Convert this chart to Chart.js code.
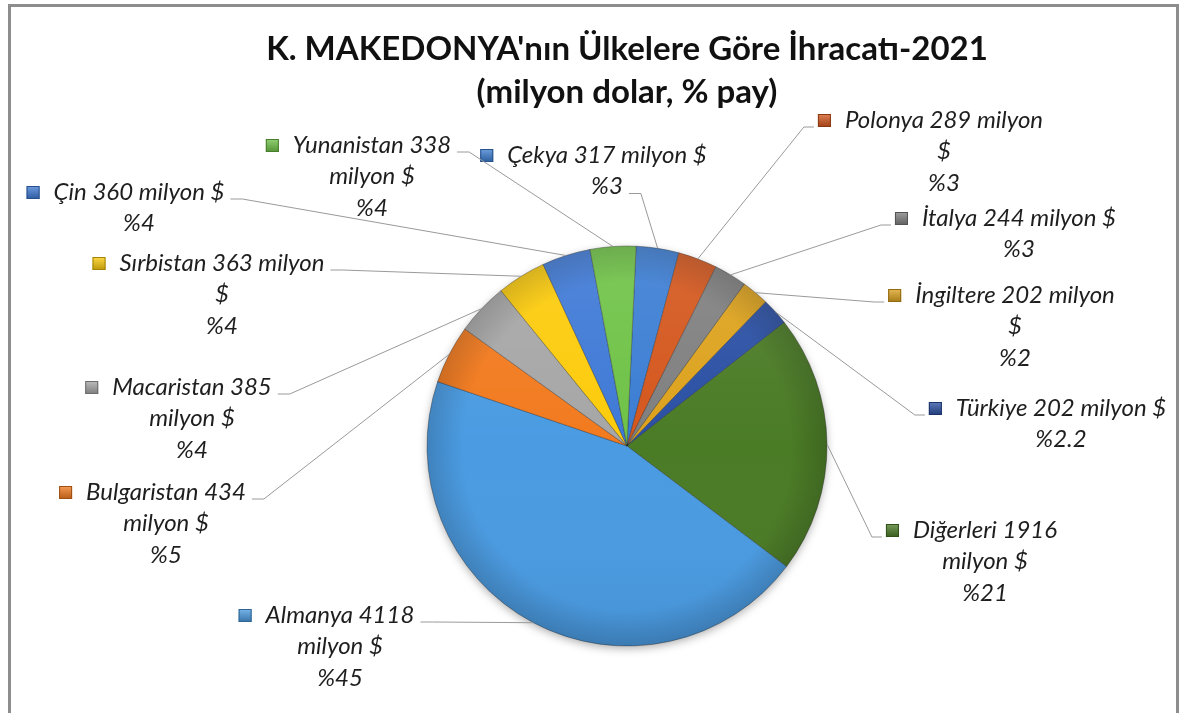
<!DOCTYPE html>
<html>
<head>
<meta charset="utf-8">
<title>K. Makedonya ihracat 2021</title>
<script src="https://cdn.jsdelivr.net/npm/chart.js@4.4.1/dist/chart.umd.min.js"></script>
<style>
  html, body { margin: 0; padding: 0; background: #fff; }
  #wrap { width: 1181px; height: 713px; position: relative; }
</style>
</head>
<body>
<div id="wrap"><canvas id="pieChart" width="1181" height="713"></canvas></div>
<script>
// data, clockwise from the top of the pie
let countries = ['Çekya', 'Polonya', 'İtalya', 'İngiltere', 'Türkiye', 'Diğerleri', 'Almanya', 'Bulgaristan', 'Macaristan', 'Sırbistan', 'Çin', 'Yunanistan'];
let exportValues = [317, 289, 244, 202, 202, 1916, 4118, 434, 385, 363, 360, 338];
let shares = ['%3', '%3', '%3', '%2', '%2.2', '%21', '%45', '%5', '%4', '%4', '%4', '%4'];
let titleLines = ["K. MAKEDONYA'nın Ülkelere Göre İhracatı-2021", '(milyon dolar, % pay)'];

let sliceColors = ['#3B7DD3', '#D4561C', '#7F7F7F', '#DDA21C', '#2A4FA3', '#4A7B25', '#4A9BE2', '#F27A1E', '#A6A6A6', '#FCCB0A', '#3E79D6', '#6EC246'];

// label boxes: center x of the text, y of the first line, words on first line, which way the leader goes
let labelLayout = [
  {x: 607, y: 155, wrap: 4, lead: 'right', line: 1},
  {x: 944, y: 120, wrap: 3, lead: 'left', line: 0},
  {x: 1019, y: 218, wrap: 4, lead: 'left', line: 0},
  {x: 1015, y: 295, wrap: 3, lead: 'left', line: 0},
  {x: 1061, y: 408, wrap: 4, lead: 'left', line: 0},
  {x: 985, y: 530, wrap: 2, lead: 'left', line: 0},
  {x: 340, y: 615, wrap: 2, lead: 'right', line: 0},
  {x: 166, y: 492, wrap: 2, lead: 'right', line: 0},
  {x: 192, y: 387, wrap: 2, lead: 'right', line: 0},
  {x: 222, y: 263, wrap: 3, lead: 'right', line: 0},
  {x: 139, y: 192, wrap: 4, lead: 'right', line: 0},
  {x: 372, y: 145, wrap: 2, lead: 'right', line: 0}
];

let labelFont = 'italic 24px Lato';
let lineGap = 31.5;

function shade(hex, amt) {
  let n = parseInt(hex.slice(1), 16);
  let r = (n >> 16) & 255, g = (n >> 8) & 255, b = n & 255;
  let f = (c) => Math.max(0, Math.min(255, Math.round(amt < 0 ? c * (1 + amt) : c + (255 - c) * amt)));
  return 'rgb(' + f(r) + ',' + f(g) + ',' + f(b) + ')';
}

function labelLines(i) {
  let words = [countries[i], String(exportValues[i]), 'milyon', '$'];
  let w = labelLayout[i].wrap;
  let lines = [words.slice(0, w).join(' ')];
  if (w < words.length) lines.push(words.slice(w).join(' '));
  lines.push(shares[i]);
  return lines;
}

// white page + grey frame
let framePlugin = {
  id: 'frame',
  beforeDraw(chart) {
    let ctx = chart.ctx;
    ctx.save();
    ctx.fillStyle = '#ffffff';
    ctx.fillRect(0, 0, chart.width, chart.height);
    ctx.strokeStyle = '#8d8d8d';
    ctx.lineWidth = 3;
    ctx.strokeRect(9.5, 5.5, 1168, 800);
    ctx.restore();
  }
};

// soft shadow under the pie and a bit of rim shading on top
let depthPlugin = {
  id: 'depth',
  beforeDatasetsDraw(chart) {
    let arc = chart.getDatasetMeta(0).data[0];
    if (!arc) return;
    let p = arc.getProps(['x', 'y', 'outerRadius'], true);
    let ctx = chart.ctx;
    ctx.save();
    ctx.shadowColor = 'rgba(0,0,0,0.35)';
    ctx.shadowBlur = 10;
    ctx.shadowOffsetY = 3;
    ctx.fillStyle = '#ffffff';
    ctx.beginPath();
    ctx.arc(p.x, p.y, p.outerRadius - 1, 0, Math.PI * 2);
    ctx.fill();
    ctx.restore();
  },
  afterDatasetsDraw(chart) {
    let arc = chart.getDatasetMeta(0).data[0];
    if (!arc) return;
    let p = arc.getProps(['x', 'y', 'outerRadius'], true);
    let ctx = chart.ctx;
    ctx.save();
    let g = ctx.createRadialGradient(p.x, p.y, p.outerRadius * 0.82, p.x, p.y, p.outerRadius);
    g.addColorStop(0, 'rgba(0,0,0,0)');
    g.addColorStop(1, 'rgba(0,0,0,0.16)');
    ctx.fillStyle = g;
    ctx.beginPath();
    ctx.arc(p.x, p.y, p.outerRadius, 0, Math.PI * 2);
    ctx.fill();
    let lg = ctx.createLinearGradient(0, p.y - p.outerRadius, 0, p.y + p.outerRadius);
    lg.addColorStop(0, 'rgba(255,255,255,0.10)');
    lg.addColorStop(0.5, 'rgba(255,255,255,0)');
    lg.addColorStop(1, 'rgba(0,0,0,0.06)');
    ctx.fillStyle = lg;
    ctx.fill();
    ctx.restore();
  }
};

// data labels with a colour key and leader line to the middle of each slice
let labelPlugin = {
  id: 'sliceLabels',
  afterDraw(chart) {
    let ctx = chart.ctx;
    let meta = chart.getDatasetMeta(0);
    ctx.save();
    ctx.font = labelFont;
    ctx.textAlign = 'center';
    ctx.textBaseline = 'middle';
    meta.data.forEach((arc, i) => {
      let lay = labelLayout[i];
      let lines = labelLines(i);
      let p = arc.getProps(['x', 'y', 'startAngle', 'endAngle', 'outerRadius'], true);
      let mid = (p.startAngle + p.endAngle) / 2;
      let px = p.x + Math.cos(mid) * p.outerRadius;
      let py = p.y + Math.sin(mid) * p.outerRadius;

      let w0 = ctx.measureText(lines[0]).width;
      let keyLeft = lay.x - w0 / 2 - 27;

      // leader
      let ly = lay.y + lay.line * lineGap + 7;
      let ax, bx;
      if (lay.lead === 'right') {
        let wl = ctx.measureText(lines[lay.line]).width;
        ax = lay.x + wl / 2 + 6;
        bx = ax + 12;
      } else {
        ax = keyLeft - 4;
        bx = ax - 10;
      }
      ctx.strokeStyle = '#9a9a9a';
      ctx.lineWidth = 1;
      ctx.beginPath();
      ctx.moveTo(ax, ly);
      ctx.lineTo(bx, ly);
      ctx.lineTo(px, py);
      ctx.stroke();

      // key square
      let kg = ctx.createLinearGradient(0, lay.y - 6, 0, lay.y + 7);
      kg.addColorStop(0, shade(sliceColors[i], 0.25));
      kg.addColorStop(1, shade(sliceColors[i], -0.25));
      ctx.fillStyle = kg;
      ctx.fillRect(keyLeft, lay.y - 6, 13, 13);
      ctx.strokeStyle = shade(sliceColors[i], -0.35);
      ctx.strokeRect(keyLeft + 0.5, lay.y - 5.5, 12, 12);

      // text
      ctx.fillStyle = '#1e1e1e';
      lines.forEach((t, k) => {
        ctx.fillText(t, lay.x, lay.y + k * lineGap);
      });
    });
    ctx.restore();
  }
};

let ctxPie = document.getElementById('pieChart').getContext('2d');

let exportPie = new Chart(ctxPie, {
  type: 'pie',
  data: {
    labels: countries,
    datasets: [{
      data: exportValues,
      backgroundColor: function (context) {
        let c = sliceColors[context.dataIndex];
        let arc = context.element;
        if (!arc || !context.chart.chartArea) return c;
        let p = arc.getProps(['x', 'y', 'outerRadius'], true);
        if (!p.outerRadius) return c;
        let g = context.chart.ctx.createRadialGradient(p.x, p.y, 0, p.x, p.y, p.outerRadius);
        g.addColorStop(0, shade(c, -0.08));
        g.addColorStop(0.6, c);
        g.addColorStop(0.93, shade(c, 0.06));
        g.addColorStop(1, shade(c, -0.2));
        return g;
      },
      borderColor: 'rgba(30,30,30,0.35)',
      borderWidth: 1
    }]
  },
  options: {
    responsive: false,
    animation: false,
    rotation: 2.6,
    radius: 200,
    layout: {
      padding: {left: 227, right: 154, top: 0, bottom: 67}
    },
    plugins: {
      legend: {display: false},
      tooltip: {enabled: false},
      title: {
        display: true,
        text: titleLines,
        color: '#111111',
        font: {family: 'Lato', size: 33, weight: 'bold', lineHeight: 1.303},
        padding: {top: 28, bottom: 132}
      }
    }
  },
  plugins: [framePlugin, depthPlugin, labelPlugin]
});
</script>
</body>
</html>
